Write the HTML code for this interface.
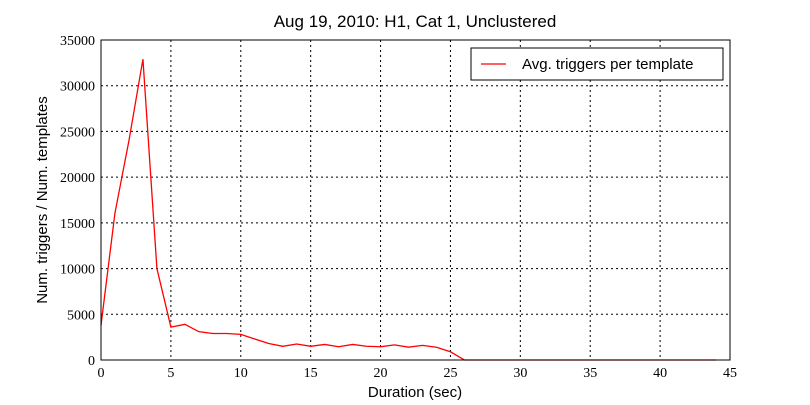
<!DOCTYPE html>
<html><head><meta charset="utf-8"><style>
body{margin:0;background:#fff;}
svg text{font-family:"Liberation Sans",sans-serif;fill:#000;}
.tick{font-family:"Liberation Serif",serif !important;font-size:14px;}
</style></head><body>
<svg id="chart" width="810" height="400">
<g id="grid"></g><g id="ticks"></g>
<polyline id="series" fill="none" stroke="#ff0000" stroke-width="1.3"/>
<rect x="101" y="40" width="629" height="320" fill="none" stroke="#000" stroke-width="1"/>
<text x="415" y="27" font-size="17" text-anchor="middle">Aug 19, 2010: H1, Cat 1, Unclustered</text>
<text x="415" y="397" font-size="15" text-anchor="middle">Duration (sec)</text>
<text transform="translate(47,200) rotate(-90)" font-size="15" text-anchor="middle">Num. triggers / Num. templates</text>
<g>
<rect x="471" y="48" width="252" height="32" fill="#fff" stroke="#000"/>
<line x1="481" y1="64" x2="506" y2="64" stroke="#ff0000" stroke-width="1.3"/>
<text x="522" y="69" font-size="15">Avg. triggers per template</text>
</g>
</svg>
<script>
const xs=[0,1,2,3,4,5,6,7,8,9,10,11,12,13,14,15,16,17,18,19,20,21,22,23,24,25,26,27,28,29,30,31,32,33,34,35,36,37,38,39,40,41,42,43,44];
const ys=[3800,16100,24000,32900,10000,3600,3900,3100,2900,2900,2800,2300,1800,1500,1750,1500,1700,1450,1700,1500,1450,1650,1400,1600,1400,900,0,0,0,0,0,0,0,0,0,0,0,0,0,0,0,0,0,0,0];
const xTicks=[0,5,10,15,20,25,30,35,40,45];
const yTicks=[0,5000,10000,15000,20000,25000,30000,35000];
const X0=101,X1=730,Y0=360,Y1=40;
const sx=v=>X0+(v-0)/45*(X1-X0);
const sy=v=>Y0-(v/35000)*(Y0-Y1);
const NS="http://www.w3.org/2000/svg";
const grid=document.getElementById('grid'),tk=document.getElementById('ticks');
function mk(tag,attrs,parent){const e=document.createElementNS(NS,tag);for(const k in attrs)e.setAttribute(k,attrs[k]);parent.appendChild(e);return e;}
xTicks.forEach(t=>{const x=sx(t);
 const g=mk('line',{x1:x,x2:x,y1:Y1,y2:Y0,stroke:'#000','stroke-dasharray':'2,3'},grid);
 
 
 const l=mk('text',{x:x,y:377,'text-anchor':'middle',class:'tick'},tk);l.textContent=t;
 
 
});
yTicks.forEach(t=>{const y=sy(t);
 const g=mk('line',{x1:X0,x2:X1,y1:y,y2:y,stroke:'#000','stroke-dasharray':'2,3'},grid);
 
 
 const l=mk('text',{x:95,y:y+5,'text-anchor':'end',class:'tick'},tk);l.textContent=t;
 
 
});
document.getElementById('series').setAttribute('points',xs.map((x,i)=>sx(x)+','+sy(ys[i])).join(' '));
</script>
</body></html>
